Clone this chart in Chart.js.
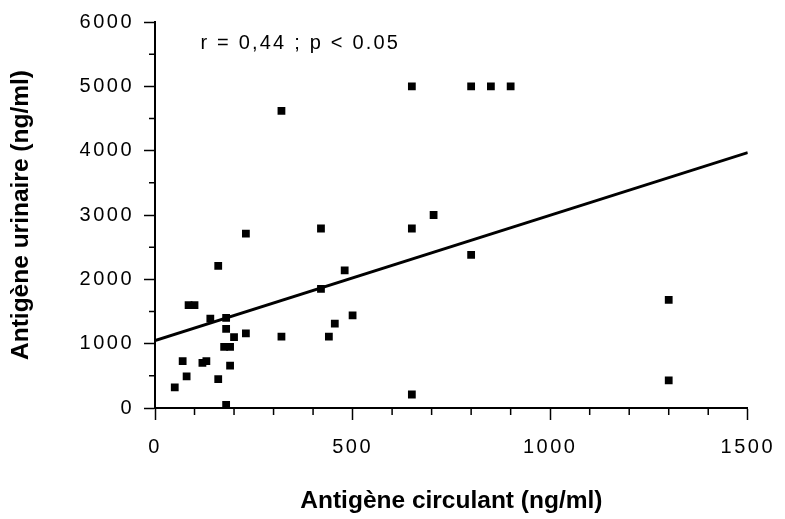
<!DOCTYPE html>
<html>
<head>
<meta charset="utf-8">
<title>Antigène urinaire / Antigène circulant</title>
<script src="https://cdn.jsdelivr.net/npm/chart.js@4.4.0/dist/chart.umd.min.js"></script>
<style>
  html, body { margin: 0; padding: 0; background: #fff; }
  #chart { display: block; }
</style>
</head>
<body>
<canvas id="chart" width="785" height="519"></canvas>
<script>
// valeurs
var circulant = [50, 70, 80, 85, 100, 120, 130, 140, 160, 160, 175, 180, 180, 180, 190, 190, 200, 230, 230,
    320, 320, 420, 420, 440, 455, 480, 500, 650, 650, 650, 705, 800, 800, 850, 900, 1300, 1300];
var urinaire = [320, 730, 490, 1600, 1600, 700, 730, 1390, 2210, 450, 950, 1400, 1230, 50, 950, 660, 1100, 1160, 2710,
    4620, 1110, 2790, 1850, 1110, 1310, 2140, 1440, 5000, 2790, 210, 3000, 5000, 2380, 5000, 5000, 1680, 430];
var droiteX = [0, 1500];
var droiteY = [1050, 3970];
var xTicks = [0, 500, 1000, 1500];
var yTicks = [0, 1000, 2000, 3000, 4000, 5000, 6000];
var annotation = 'r = 0,44 ; p < 0.05';

var police = '"Liberation Sans", Arial, Helvetica, sans-serif';

var points = circulant.map(function (x, i) { return { x: x, y: urinaire[i] }; });
var droite = droiteX.map(function (x, i) { return { x: x, y: droiteY[i] }; });

var extras = {
    id: 'extras',
    beforeDraw: function (chart) {
        chart.ctx.letterSpacing = '0px';
    },
    afterDatasetsDraw: function (chart) {
        // tick labels are drawn after this (ticks.z = 1), spaced like the original
        chart.ctx.letterSpacing = '2.5px';
    },
    afterDraw: function (chart) {
        var ctx = chart.ctx, sx = chart.scales.x, sy = chart.scales.y;
        ctx.save();
        ctx.strokeStyle = '#000';
        ctx.lineWidth = 1.5;
        ctx.beginPath();
        for (var v = 100; v < 1500; v += 100) {
            if (v % 500 === 0) continue;
            var px = sx.getPixelForValue(v);
            ctx.moveTo(px, sx.top);
            ctx.lineTo(px, sx.top + 7);
        }
        for (var w = 500; w < 6000; w += 1000) {
            var py = sy.getPixelForValue(w);
            ctx.moveTo(sy.right, py);
            ctx.lineTo(sy.right - 6, py);
        }
        ctx.stroke();
        ctx.letterSpacing = '2.2px';
        ctx.font = '20px ' + police;
        ctx.fillStyle = '#000';
        ctx.textAlign = 'left';
        ctx.textBaseline = 'middle';
        ctx.fillText(annotation, sx.getPixelForValue(115), sy.getPixelForValue(5660));
        ctx.restore();
    }
};

new Chart(document.getElementById('chart').getContext('2d'), {
    type: 'scatter',
    data: {
        datasets: [{
            label: 'Patients',
            data: points,
            pointStyle: 'rect',
            pointRadius: 5.5,
            pointHoverRadius: 5.5,
            backgroundColor: '#000',
            borderColor: '#000',
            borderWidth: 0,
            order: 1
        }, {
            type: 'line',
            label: 'Droite de régression',
            data: droite,
            borderColor: '#000',
            borderWidth: 3,
            pointRadius: 0,
            fill: false,
            order: 2
        }]
    },
    options: {
        responsive: false,
        animation: false,
        layout: { padding: { top: 17, right: 33, left: 0, bottom: 0 } },
        plugins: {
            legend: { display: false },
            tooltip: { enabled: false }
        },
        scales: {
            x: {
                type: 'linear',
                position: 'bottom',
                min: 0,
                max: 1500,
                afterBuildTicks: function (s) { s.ticks = xTicks.map(function (v) { return { value: v }; }); },
                afterFit: function (s) { s.height = 111; },
                border: { color: '#000', width: 2 },
                grid: { drawOnChartArea: false, tickLength: 12, tickColor: '#000', tickWidth: 1.5 },
                ticks: {
                    color: '#000', font: { family: police, size: 20 }, padding: 15, maxRotation: 0, z: 1,
                    callback: function (v) { return String(v); }
                },
                title: {
                    display: true,
                    text: 'Antigène circulant (ng/ml)',
                    color: '#000',
                    font: { family: police, size: 24.5, weight: 'bold' },
                    padding: { top: 0, bottom: 3 }
                }
            },
            y: {
                type: 'linear',
                min: 0,
                max: 6000,
                afterBuildTicks: function (s) { s.ticks = yTicks.map(function (v) { return { value: v }; }); },
                afterFit: function (s) { s.width = 155; },
                border: { color: '#000', width: 2 },
                grid: { drawOnChartArea: false, tickLength: 11, tickColor: '#000', tickWidth: 1.5 },
                ticks: {
                    color: '#000', font: { family: police, size: 20 }, padding: 10, z: 1,
                    callback: function (v) { return String(v); }
                },
                title: {
                    display: true,
                    text: 'Antigène urinaire (ng/ml)',
                    color: '#000',
                    font: { family: police, size: 24.5, weight: 'bold' },
                    padding: { top: 7, bottom: 0 }
                }
            }
        }
    },
    plugins: [extras]
});
</script>
</body>
</html>
